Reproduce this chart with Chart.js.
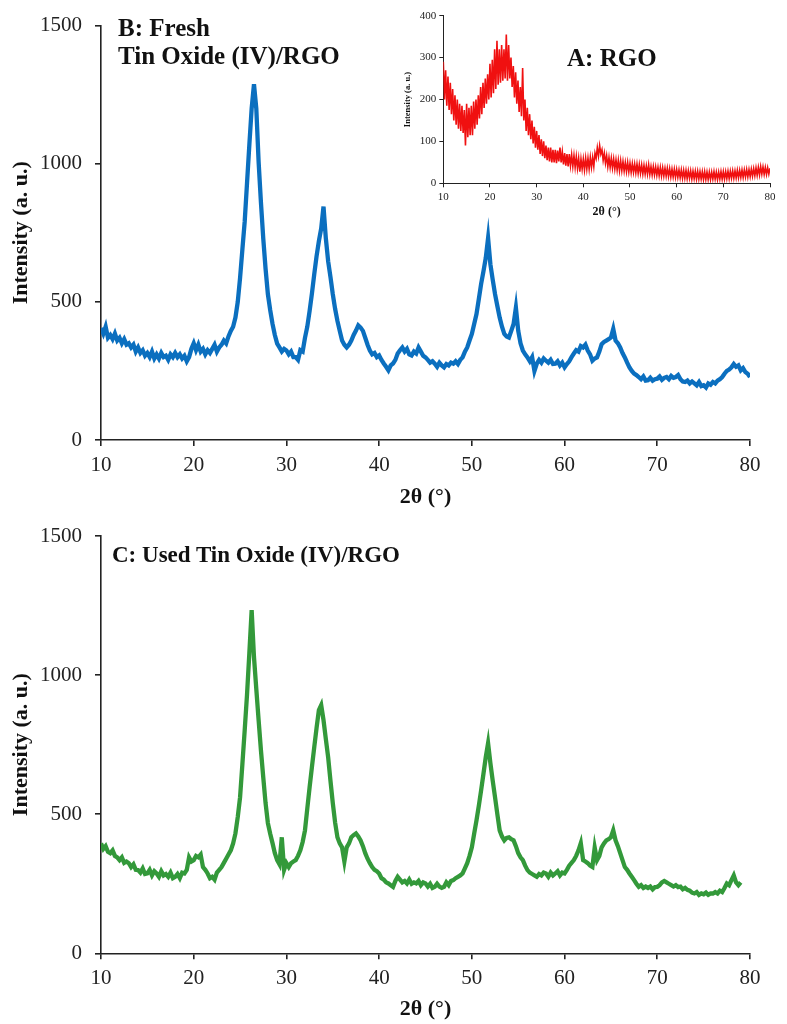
<!DOCTYPE html>
<html>
<head>
<meta charset="utf-8">
<script src="https://cdn.jsdelivr.net/npm/chart.js@4.4.1/dist/chart.umd.min.js"></script>
<style>
html,body{margin:0;padding:0;background:#fff;}
body{width:787px;height:1024px;position:relative;overflow:hidden;font-family:"Liberation Serif","Times New Roman",serif;}
.box{position:absolute;}
.lbl{position:absolute;font-weight:bold;font-size:25px;line-height:28px;color:#111;white-space:nowrap;}
</style>
</head>
<body>
<div class="box" style="left:0;top:0;width:787px;height:515px"><canvas id="chB"></canvas></div>
<div class="box" style="left:400px;top:0;width:387px;height:225px"><canvas id="chA"></canvas></div>
<div class="box" style="left:0;top:509px;width:787px;height:515px"><canvas id="chC"></canvas></div>
<div class="lbl" style="left:118px;top:14px">B: Fresh<br>Tin Oxide (IV)/RGO</div>
<div class="lbl" style="left:567px;top:43.5px">A: RGO</div>
<div class="lbl" style="left:112px;top:541px;font-size:23px">C: Used Tin Oxide (IV)/RGO</div>
<script>
// scan grid: 2θ starts at 10°, one reading every 0.25°
const START_ANGLE = 10;
const STEP = 0.25;
const xTicks = [10, 20, 30, 40, 50, 60, 70, 80];

// B: fresh SnO2/RGO (10° .. 80°)
const freshTinOxide = [
  405,385,410,370, 380,365,385,360, 370,350,365,345, 350,335,345,320, 335,315,325,305,
  315,300,320,295, 310,295,315,300, 305,290,310,300, 315,300,310,295, 305,285,300,330,
  350,325,345,320, 330,310,325,315, 330,345,320,335, 345,360,350,375, 395,410,443,500,
  587,690,791,930, 1068,1200,1288,1200, 1007,860,730,620, 528,470,420,380, 349,335,320,330,
  324,310,320,300, 300,290,325,320, 370,410,467,530, 600,665,720,766, 845,730,647,590,
  528,475,431,395, 360,345,335,345, 360,380,396,415, 407,395,370,345, 324,310,315,300,
  306,290,277,265, 252,270,277,290, 313,325,335,320, 330,310,306,320, 313,335,320,305,
  299,290,280,285, 276,265,280,270, 263,275,270,280, 276,285,275,290, 299,320,335,360,
  384,420,456,510, 565,610,659,731, 636,580,528,485, 443,410,384,375, 371,395,420,479,
  396,350,324,310, 299,285,300,250, 276,290,280,295, 287,280,290,275, 276,285,270,280,
  263,275,285,300, 313,325,320,340, 335,345,324,310, 287,295,299,320, 347,355,360,365,
  371,402,360,350, 335,315,299,280, 263,250,240,235, 228,220,230,215, 216,225,215,220,
  222,230,218,225, 228,220,232,225, 228,235,220,212, 210,215,205,212, 205,198,210,195,
  198,190,205,200, 210,205,215,220, 228,240,250,255, 263,275,265,270, 252,260,246,240,
  228
];

// C: used SnO2/RGO (10° .. 79°)
const usedTinOxide = [
  395,375,385,365, 360,370,350,345, 335,345,325,330, 324,310,320,300, 299,290,305,285,
  287,300,280,295, 287,275,295,280, 285,275,290,270, 275,285,270,290, 287,300,345,330,
  335,350,345,355, 310,300,287,270, 275,265,290,300, 310,325,340,355, 370,395,431,490,
  561,680,802,930, 1079,1234,1065,950, 838,730,633,540, 468,430,396,360, 335,320,417,300,
  324,310,324,330, 335,350,370,400, 442,520,597,670, 741,810,874,892, 838,770,705,620,
  540,470,417,395, 381,330,381,395, 417,425,431,420, 406,385,360,340, 324,310,300,295,
  287,270,265,255, 251,245,239,260, 275,265,255,260, 251,265,250,255, 251,260,245,255,
  251,240,250,235, 239,250,240,235, 239,255,245,260, 263,270,275,280, 287,305,324,350,
  381,430,478,530, 586,645,705,755, 683,620,561,500, 442,420,406,415, 417,410,406,385,
  360,345,335,315, 299,290,285,280, 275,285,280,290, 287,275,290,280, 287,295,280,290,
  287,300,315,325, 335,350,370,396, 335,330,324,315, 310,380,335,350, 381,395,406,410,
  417,442,406,385, 360,335,310,300, 287,275,263,250, 239,245,235,240, 235,240,230,238,
  239,245,255,260, 255,250,245,240, 245,238,240,230, 235,228,225,218, 215,220,210,215,
  212,218,210,215, 215,220,215,225, 220,235,251,245, 263,280,255,245,
  255
];

// A: RGO inset (10° .. 80°)
const rgo = [
  290,200,270,185, 255,175,240,165, 225,150,210,140, 200,130,190,125, 185,120,175,90,
  190,110,180,115, 185,115,195,130, 200,140,210,155, 230,165,240,180, 250,190,260,200,
  285,205,295,215, 320,225,340,235, 320,240,330,245, 320,250,355,245, 330,250,300,230,
  280,205,265,190, 245,170,230,160, 275,150,200,125, 180,115,165,105, 150,95,135,85,
  125,80,115,70, 105,65,100,60, 90,55,85,52, 85,50,80,50, 80,48,78,52,
  85,50,75,45, 72,42,70,40, 70,42,68,40, 66,38,64,36, 60,28,58,34,
  58,32,60,34, 60,34,62,38, 62,40,72,60, 85,65,90,70, 80,55,72,48,
  66,40,62,38, 60,36,58,34, 56,32,55,30, 54,30,52,29, 50,28,50,27,
  48,26,47,26, 46,25,46,24, 45,24,44,22, 43,22,42,22, 44,21,40,20,
  40,20,39,19, 38,18,38,17, 37,17,36,17, 36,16,35,15, 34,15,34,14,
  33,14,32,13, 32,12,31,12, 31,11,30,12, 30,10,29,11, 29,10,29,10,
  28,10,28,9, 28,9,27,9, 27,9,27,10, 28,10,27,9, 27,10,28,10,
  28,10,28,11, 29,11,29,12, 30,12,30,13, 31,13,31,14, 32,14,32,15,
  33,15,33,16, 34,17,35,18, 37,19,38,20, 40,22,39,21, 38,21,37,22,
  36
];

Chart.defaults.font.family = '"Liberation Serif","Times New Roman",serif';
Chart.defaults.color = '#222';

function toPoints(values) {
  return values.map((v, i) => ({x: START_ANGLE + i * STEP, y: v}));
}

function xrdChart(id, values, colour, o) {
  return new Chart(document.getElementById(id), {
    type: 'line',
    data: {datasets: [{data: toPoints(values), borderColor: colour, borderWidth: o.lineW,
      pointRadius: 0, tension: 0, fill: false}]},
    options: {
      responsive: true, maintainAspectRatio: false, animation: false,
      layout: {padding: o.pad},
      plugins: {legend: {display: false}, tooltip: {enabled: false}},
      scales: {
        x: {
          type: 'linear', min: 10, max: 80,
          afterBuildTicks: s => { s.ticks = xTicks.map(v => ({value: v})); },
          afterFit: s => { s.height = o.xH; },
          ticks: {font: {size: o.tickSize}, padding: o.xPad, maxRotation: 0, autoSkip: false,
            callback: v => String(v), color: '#222'},
          grid: {drawOnChartArea: false, drawTicks: true, tickLength: o.tickLen, color: '#222', lineWidth: o.axisW},
          border: {display: true, color: '#222', width: o.axisW},
          title: {display: true, text: '2θ (°)', font: {size: o.xTitle, weight: 'bold'},
            padding: {top: 0, bottom: o.xTitlePad}, color: '#111'}
        },
        y: {
          min: 0, max: o.yMax,
          afterBuildTicks: s => { s.ticks = o.yTicks.map(v => ({value: v})); },
          afterFit: s => { s.width = o.yW; },
          ticks: {font: {size: o.tickSize}, padding: o.yPad, callback: v => String(v), color: '#222'},
          grid: {drawOnChartArea: false, drawTicks: true, tickLength: o.tickLen, color: '#222', lineWidth: o.axisW},
          border: {display: true, color: '#222', width: o.axisW},
          title: {display: true, text: 'Intensity (a. u.)', font: {size: o.yTitle, weight: 'bold'},
            padding: {top: o.yTitlePad, bottom: 0}, color: '#111'}
        }
      }
    }
  });
}

const mainOpts = {lineW: 4.3, pad: {top: 23, right: 37, left: 0, bottom: 0}, xH: 75, yW: 101,
  tickSize: 21, xPad: 7, yPad: 13, tickLen: 6, axisW: 1.6, xTitle: 22, xTitlePad: 4.8,
  yTitle: 22, yTitlePad: 8, yMax: 1500, yTicks: [0, 500, 1000, 1500]};

xrdChart('chB', freshTinOxide, '#0B6FBF', mainOpts);
xrdChart('chC', usedTinOxide, '#33993A',
  Object.assign({}, mainOpts, {pad: {top: 27, right: 37, left: 0, bottom: 0}, xH: 70.7, xTitlePad: 1.8}));
xrdChart('chA', rgo, '#F01010', {lineW: 1.6, pad: {top: 15.7, right: 17, left: 0, bottom: 0},
  xH: 41.7, yW: 43.3, tickSize: 11, xPad: 3, yPad: 3, tickLen: 4, axisW: 1, xTitle: 12, xTitlePad: 5.8,
  yTitle: 8.5, yTitlePad: 3, yMax: 400, yTicks: [0, 100, 200, 300, 400]});
</script>
</body>
</html>
